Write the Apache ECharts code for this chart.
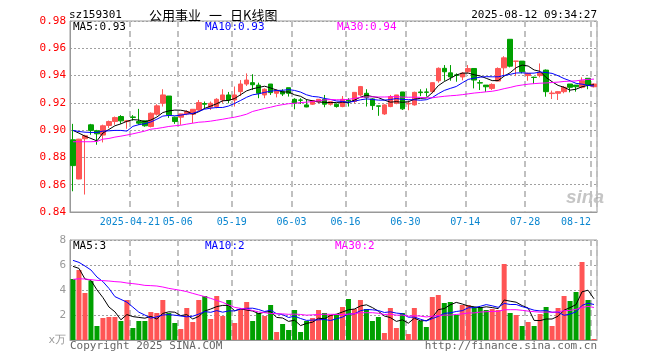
<!DOCTYPE html>
<html><head><meta charset="utf-8">
<script src="https://cdn.jsdelivr.net/npm/echarts@6/dist/echarts.min.js"></script>
<style>html,body{margin:0;padding:0;background:#fff}#c{width:660px;height:360px}</style>
</head><body><div id="c"></div>
<script>
const dates = ["2025-04-07","2025-04-08","2025-04-09","2025-04-10","2025-04-11","2025-04-14","2025-04-15","2025-04-16","2025-04-17","2025-04-18",
"2025-04-21","2025-04-22","2025-04-23","2025-04-24","2025-04-25","2025-04-28","2025-04-29","2025-04-30","2025-05-06","2025-05-07",
"2025-05-08","2025-05-09","2025-05-12","2025-05-13","2025-05-14","2025-05-15","2025-05-16","2025-05-19","2025-05-20","2025-05-21",
"2025-05-22","2025-05-23","2025-05-26","2025-05-27","2025-05-28","2025-05-29","2025-05-30","2025-06-03","2025-06-04","2025-06-05",
"2025-06-06","2025-06-09","2025-06-10","2025-06-11","2025-06-12","2025-06-13","2025-06-16","2025-06-17","2025-06-18","2025-06-19",
"2025-06-20","2025-06-23","2025-06-24","2025-06-25","2025-06-26","2025-06-27","2025-06-30","2025-07-01","2025-07-02","2025-07-03",
"2025-07-04","2025-07-07","2025-07-08","2025-07-09","2025-07-10","2025-07-11","2025-07-14","2025-07-15","2025-07-16","2025-07-17",
"2025-07-18","2025-07-21","2025-07-22","2025-07-23","2025-07-24","2025-07-25","2025-07-28","2025-07-29","2025-07-30","2025-07-31",
"2025-08-01","2025-08-04","2025-08-05","2025-08-06","2025-08-07","2025-08-08","2025-08-11","2025-08-12"];
const labelIdx = [10,18,27,37,46,56,66,76,87];

const opens = [0.8929,0.8642,0.8937,0.9039,0.8995,0.8964,0.9034,0.9063,0.9100,0.9063,
0.9097,0.9063,0.9068,0.9027,0.9117,0.9197,0.9250,0.9095,0.9095,0.9119,
0.9117,0.9148,0.9195,0.9168,0.9173,0.9221,0.9258,0.9221,0.9282,0.9338,
0.9348,0.9330,0.9258,0.9338,0.9270,0.9282,0.9311,0.9226,0.9221,0.9185,
0.9190,0.9209,0.9226,0.9190,0.9190,0.9173,0.9219,0.9210,0.9258,0.9270,
0.9229,0.9178,0.9119,0.9173,0.9197,0.9280,0.9192,0.9185,0.9280,0.9280,
0.9282,0.9362,0.9453,0.9420,0.9405,0.9390,0.9428,0.9452,0.9348,0.9330,
0.9306,0.9360,0.9457,0.9666,0.9505,0.9506,0.9400,0.9388,0.9400,0.9440,
0.9268,0.9270,0.9282,0.9338,0.9330,0.9314,0.9380,0.9318];
const closes = [0.8740,0.8934,0.8959,0.8998,0.8973,0.9032,0.9063,0.9092,0.9068,0.9068,
0.9093,0.9051,0.9032,0.9124,0.9178,0.9258,0.9112,0.9063,0.9119,0.9136,
0.9153,0.9202,0.9190,0.9197,0.9226,0.9258,0.9221,0.9258,0.9338,0.9367,
0.9333,0.9270,0.9300,0.9275,0.9290,0.9265,0.9270,0.9197,0.9219,0.9170,
0.9217,0.9226,0.9190,0.9209,0.9173,0.9226,0.9214,0.9277,0.9319,0.9240,
0.9180,0.9175,0.9185,0.9246,0.9258,0.9156,0.9197,0.9277,0.9275,0.9277,
0.9348,0.9453,0.9428,0.9390,0.9402,0.9418,0.9452,0.9367,0.9345,0.9318,
0.9335,0.9452,0.9530,0.9469,0.9506,0.9428,0.9416,0.9386,0.9420,0.9282,
0.9272,0.9282,0.9314,0.9314,0.9318,0.9362,0.9331,0.9338];
const lows = [0.8552,0.8640,0.8528,0.8966,0.8893,0.8910,0.9015,0.9039,0.9046,0.9010,
0.9070,0.9039,0.9025,0.9020,0.9107,0.9173,0.9090,0.9046,0.9039,0.9110,
0.9051,0.9140,0.9156,0.9148,0.9160,0.9200,0.9197,0.9173,0.9250,0.9324,
0.9294,0.9234,0.9234,0.9258,0.9240,0.9250,0.9246,0.9153,0.9192,0.9168,
0.9185,0.9197,0.9168,0.9180,0.9165,0.9168,0.9173,0.9197,0.9250,0.9173,
0.9148,0.9105,0.9112,0.9168,0.9190,0.9148,0.9146,0.9180,0.9250,0.9246,
0.9270,0.9348,0.9362,0.9362,0.9355,0.9365,0.9420,0.9306,0.9294,0.9280,
0.9294,0.9360,0.9404,0.9460,0.9396,0.9416,0.9362,0.9338,0.9387,0.9245,
0.9228,0.9221,0.9270,0.9277,0.9282,0.9306,0.9300,0.9313];
const highs = [0.9046,0.8936,0.8966,0.9046,0.9002,0.9040,0.9070,0.9100,0.9110,0.9075,
0.9110,0.9156,0.9070,0.9130,0.9190,0.9300,0.9250,0.9099,0.9120,0.9146,
0.9153,0.9221,0.9210,0.9210,0.9234,0.9300,0.9280,0.9320,0.9367,0.9416,
0.9410,0.9348,0.9306,0.9338,0.9300,0.9300,0.9311,0.9234,0.9234,0.9226,
0.9221,0.9226,0.9258,0.9210,0.9197,0.9250,0.9234,0.9277,0.9324,0.9300,
0.9234,0.9178,0.9190,0.9258,0.9258,0.9280,0.9217,0.9282,0.9300,0.9306,
0.9350,0.9460,0.9477,0.9477,0.9416,0.9425,0.9477,0.9452,0.9367,0.9330,
0.9343,0.9460,0.9542,0.9666,0.9506,0.9506,0.9420,0.9392,0.9489,0.9445,
0.9290,0.9287,0.9323,0.9338,0.9330,0.9387,0.9380,0.9343];
// volume, unit: 万
const volumes = [4.88,5.60,3.76,4.72,1.12,1.76,1.84,1.84,1.52,3.20,
0.96,1.52,1.52,2.24,2.16,3.20,2.16,1.36,0.88,2.56,
1.44,3.20,3.52,1.68,3.52,1.92,3.20,1.36,2.48,3.04,
1.52,2.16,1.92,2.80,0.64,1.28,0.80,2.40,0.64,1.52,
1.76,2.40,2.16,2.00,2.00,2.64,3.28,2.48,3.20,2.48,
1.52,1.84,0.56,2.56,0.96,2.16,0.48,2.56,1.52,1.04,
3.44,3.60,2.96,3.04,2.00,2.80,2.80,2.64,2.64,2.40,
2.48,2.40,6.08,2.16,2.00,1.12,1.44,1.12,2.08,2.64,
1.12,2.56,3.52,3.12,3.84,6.24,3.20,0.08];

// moving-average values for the days before a full window exists
const ma5Head = [0.8998,0.8978,0.8956,0.8939];
const ma10Head = [0.8998,0.8990,0.8985,0.8983,0.8983,0.8993,0.8995,0.8998,0.8998];
const ma30Head = [0.8915,0.8915,0.8915,0.8915,0.8917,0.8934,0.8939,0.8949,0.8956,0.8964,
0.8973,0.8983,0.8993,0.9007,0.9012,0.9019,0.9027,0.9032,0.9036,0.9044,
0.9051,0.9058,0.9061,0.9066,0.9073,0.9080,0.9088,0.9095,0.9105];
const vma5Head = [5.89,5.73,4.88,4.77];
const vma10Head = [6.37,6.21,5.92,5.60,5.04,4.67,4.13,3.47,3.25];
const vma30Head = [4.85,4.90,4.88,4.83,4.77,4.75,4.72,4.67,4.64,4.56,
4.51,4.45,4.37,4.35,4.32,4.24,4.13,4.05,3.97,3.87,
3.73,3.60,3.47,3.33,3.17,3.01,2.80,2.61,2.53];

const priceTicks = {min:0.84, max:0.98, interval:0.02};
const volTicks = {min:0, max:8, interval:2};

function ma(vals, n, head){
  return vals.map((v,i)=>{
    if(i < n-1) return head[i];
    let s=0; for(let k=i-n+1;k<=i;k++) s+=vals[k];
    return +(s/n).toFixed(4);
  });
}

const UP='#ff5555', DOWN='#00a000';
const mono = "'DejaVu Sans Mono', monospace";
const cjk = "'Noto Sans CJK SC', sans-serif";
const gridGrey = '#a0a0a0';
const vDash = {color:'#c0c0c0', type:[6,4], width:2};

const chart = echarts.init(document.getElementById('c'), null, {renderer:'canvas'});
const showAt = (i)=> labelIdx.indexOf(i) >= 0;

const candleData = dates.map((d,i)=>[opens[i], closes[i], lows[i], highs[i]]);
const volData = volumes.map((v,i)=>({value:v, itemStyle:{color: closes[i]>=opens[i]?UP:DOWN}}));

function txt(text, x, y, fill, opts){
  return {type:'text', silent:true, style:Object.assign({text, x, y, fill, font:'11px '+mono, textAlign:'left', textVerticalAlign:'middle'}, opts||{})};
}

chart.setOption({
  animation:false,
  backgroundColor:'#fff',
  grid:[
    {left:70, top:21, width:527, height:191, show:true, borderColor:'#999', borderWidth:1},
    {left:70, top:240, width:527, height:100, show:true, borderColor:'#999', borderWidth:1}
  ],
  xAxis:[
    {type:'category', gridIndex:0, data:dates, boundaryGap:true,
     axisLine:{lineStyle:{color:'#999'}}, axisTick:{show:false},
     axisLabel:{interval:(i)=>showAt(i), hideOverlap:false, color:'#0a86d0', fontFamily:mono, fontSize:10, margin:5,
       formatter:(v,i)=> i===10 ? v : (i===87 ? '{e|'+v.slice(5)+'}' : v.slice(5)),
       padding:[0,6,0,0],
       rich:{e:{fontFamily:mono, fontSize:10, color:'#0a86d0', padding:[0,30,0,0]}}},
     splitLine:{show:true, interval:(i)=>showAt(i), lineStyle:vDash}},
    {type:'category', gridIndex:1, data:dates, boundaryGap:true,
     axisLine:{lineStyle:{color:'#999'}}, axisTick:{show:false}, axisLabel:{show:false},
     splitLine:{show:true, interval:(i)=>showAt(i), lineStyle:vDash}}
  ],
  yAxis:[
    {type:'value', gridIndex:0, min:priceTicks.min, max:priceTicks.max, interval:priceTicks.interval,
     axisLine:{show:true, lineStyle:{color:'#999'}}, axisTick:{show:false},
     axisLabel:{color:'#ff0000', fontFamily:mono, fontSize:11, margin:4, formatter:(v)=>v.toFixed(2)},
     splitLine:{show:true, lineStyle:{color:gridGrey, type:[2,2]}}},
    {type:'value', gridIndex:1, min:volTicks.min, max:volTicks.max, interval:volTicks.interval,
     axisLine:{show:true, lineStyle:{color:'#999'}}, axisTick:{show:false},
     axisLabel:{color:'#999', fontFamily:mono, fontSize:11, margin:4, formatter:(v)=> v===0 ? 'x万' : String(v)},
     splitLine:{show:true, lineStyle:{color:gridGrey, type:[2,2]}}}
  ],
  series:[
    {type:'candlestick', xAxisIndex:0, yAxisIndex:0, data:candleData, barWidth:5,
     itemStyle:{color:UP, color0:DOWN, borderColor:UP, borderColor0:DOWN, borderWidth:1}},
    {type:'line', xAxisIndex:0, yAxisIndex:0, data:ma(closes,5,ma5Head), symbol:'none', lineStyle:{color:'#000', width:1}},
    {type:'line', xAxisIndex:0, yAxisIndex:0, data:ma(closes,10,ma10Head), symbol:'none', lineStyle:{color:'#0000ff', width:1}},
    {type:'line', xAxisIndex:0, yAxisIndex:0, data:ma(closes,30,ma30Head), symbol:'none', lineStyle:{color:'#ff00ff', width:1}},
    {type:'bar', xAxisIndex:1, yAxisIndex:1, data:volData, barWidth:5},
    {type:'line', xAxisIndex:1, yAxisIndex:1, data:ma(volumes,5,vma5Head), symbol:'none', lineStyle:{color:'#000', width:1}},
    {type:'line', xAxisIndex:1, yAxisIndex:1, data:ma(volumes,10,vma10Head), symbol:'none', lineStyle:{color:'#0000ff', width:1}},
    {type:'line', xAxisIndex:1, yAxisIndex:1, data:ma(volumes,30,vma30Head), symbol:'none', lineStyle:{color:'#ff00ff', width:1}}
  ],
  graphic:[
    txt('sz159301', 69, 15, '#000'),
    txt('公用事业', 149, 15, '#000', {font:'13px '+cjk}),
    txt('一', 209, 15, '#000', {font:'13px '+cjk}),
    txt('日K线图', 230, 15, '#000', {font:'13px '+cjk}),
    txt('2025-08-12 09:34:27', 597, 15, '#000', {textAlign:'right'}),
    txt('MA5:0.93', 73, 27, '#000'),
    txt('MA10:0.93', 205, 27, '#0000ff'),
    txt('MA30:0.94', 337, 27, '#ff00ff'),
    txt('MA5:3', 73, 246, '#000'),
    txt('MA10:2', 205, 246, '#0000ff'),
    txt('MA30:2', 335, 246, '#ff00ff'),
    txt('Copyright 2025 SINA.COM', 70, 346, '#666'),
    txt('http://finance.sina.com.cn', 597, 346, '#666', {textAlign:'right'}),
    txt('sina', 566, 198, 'rgba(150,150,150,0.55)', {font:'italic bold 19px sans-serif'})
  ]
});
</script></body></html>
